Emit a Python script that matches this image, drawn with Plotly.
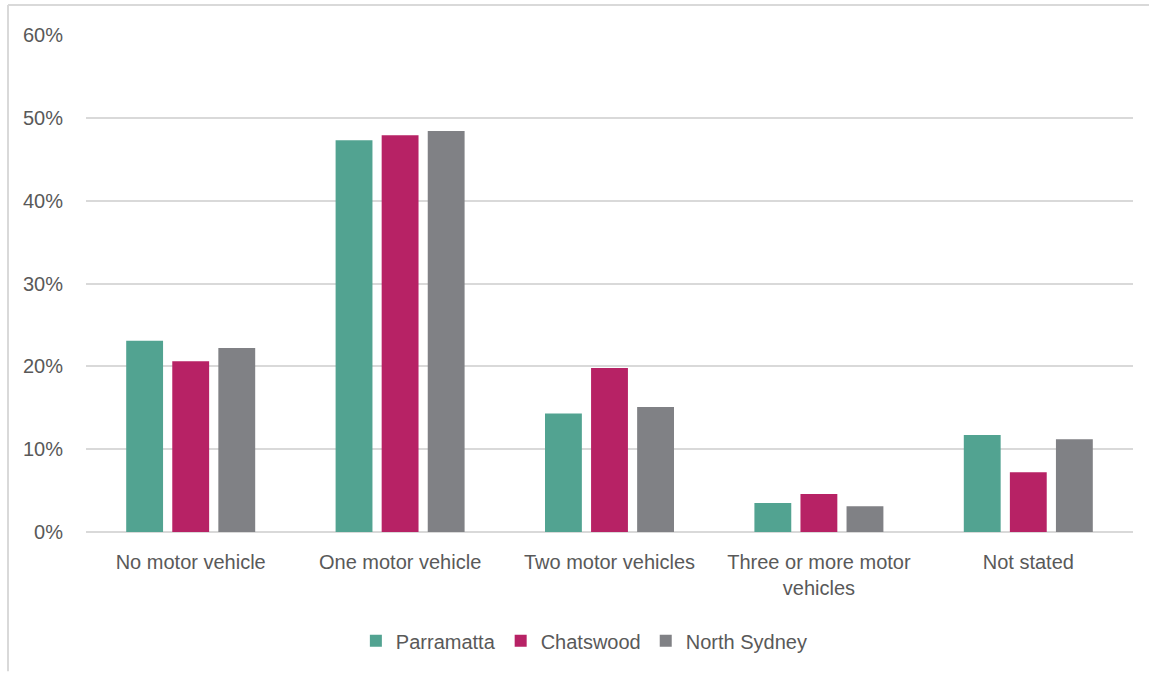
import plotly.graph_objects as go

categories = [
    "No motor vehicle",
    "One motor vehicle",
    "Two motor vehicles",
    "Three or more motor<br>vehicles",
    "Not stated",
]
parramatta = [23.1, 47.3, 14.3, 3.5, 11.7]
chatswood = [20.6, 47.9, 19.8, 4.6, 7.2]
north_sydney = [22.2, 48.4, 15.1, 3.1, 11.2]

series = [
    ("Parramatta", parramatta, "#52A391"),
    ("Chatswood", chatswood, "#B72265"),
    ("North Sydney", north_sydney, "#808185"),
]

FONT = "Liberation Sans, Arial, sans-serif"
TEXT = "#595959"
SIZE = 20

fig = go.Figure()
for name, vals, color in series:
    fig.add_trace(go.Bar(
        x=categories,
        y=[v / 100 for v in vals],
        name=name,
        marker=dict(color=color, line=dict(width=0)),
        hovertemplate="%{x}: %{y:.1%}<extra>" + name + "</extra>",
    ))

fig.update_layout(
    width=1149,
    height=675,
    barmode="group",
    bargap=0.34,
    bargroupgap=0.2,
    plot_bgcolor="white",
    paper_bgcolor="white",
    margin=dict(l=86, r=16, t=35, b=143),
    font=dict(family=FONT, size=SIZE, color=TEXT),
    showlegend=True,
    legend=dict(
        orientation="h",
        x=0.476, xanchor="center",
        y=-0.219, yanchor="middle",
        font=dict(size=SIZE, color=TEXT),
        itemwidth=30,
        traceorder="normal",
    ),
    xaxis=dict(
        showgrid=False,
        showline=False,
        ticks="",
        tickfont=dict(size=SIZE, color=TEXT),
        ticklabelstandoff=16,
    ),
    yaxis=dict(
        range=[0, 0.6],
        dtick=0.1,
        tickformat=".0%",
        showgrid=True,
        gridcolor="#D9D9D9",
        gridwidth=1.5,
        zeroline=True,
        zerolinecolor="#D9D9D9",
        zerolinewidth=1.5,
        showline=False,
        ticks="",
        tickfont=dict(size=SIZE, color=TEXT),
        ticklabelstandoff=22,
    ),
    shapes=[
        dict(type="line", xref="paper", yref="paper",
             x0=-0.0745, x1=-0.0745, y0=-0.28, y1=1.0604,
             line=dict(color="#D9D9D9", width=2)),
        dict(type="line", xref="paper", yref="paper",
             x0=-0.0745, x1=1.02, y0=1.0604, y1=1.0604,
             line=dict(color="#D9D9D9", width=2)),
    ],
)

fig.write_html("out.html")
